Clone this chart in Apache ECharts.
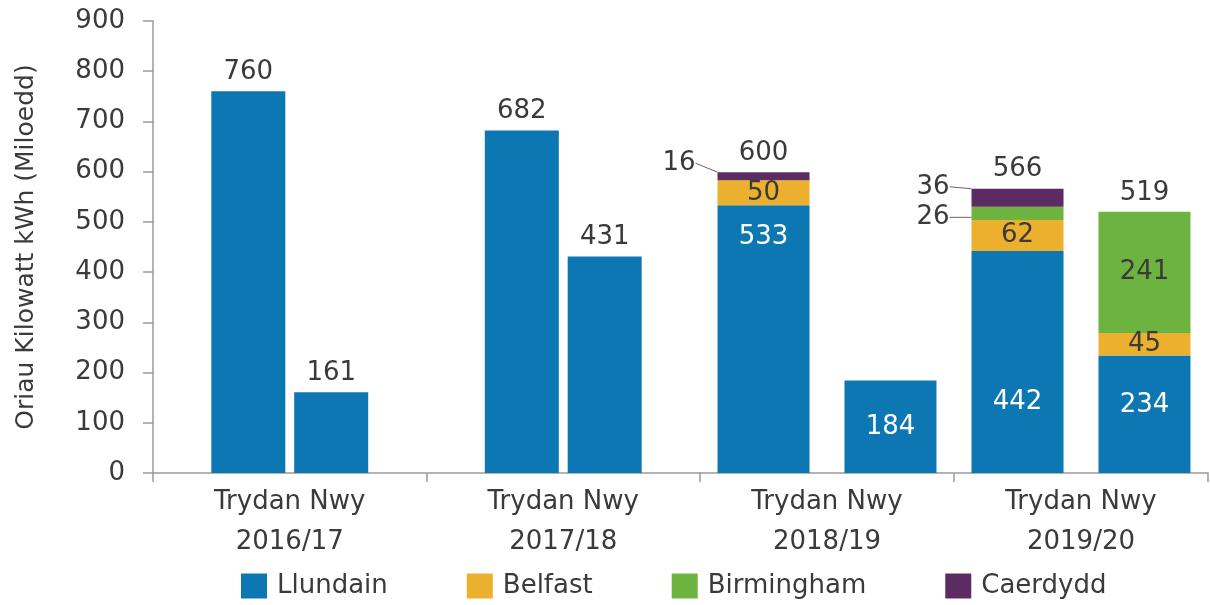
<!DOCTYPE html>
<html><head><meta charset="utf-8">
<script src="https://cdn.jsdelivr.net/npm/echarts@6/dist/echarts.min.js"></script>
<style>html,body{margin:0;padding:0;background:#fff}#c{width:1210px;height:605px}</style>
</head><body><div id="c"></div>
<script>
// ---------- data ----------
const categories = ['Trydan Nwy\n2016/17', 'Trydan Nwy\n2017/18', 'Trydan Nwy\n2018/19', 'Trydan Nwy\n2019/20'];
const cities = ['Llundain', 'Belfast', 'Birmingham', 'Caerdydd'];
const yAxisName = 'Oriau Kilowatt kWh (Miloedd)';
const yMin = 0, yMax = 900, yInterval = 100;

// first bar of each group
const bar1Llundain   = [760, 682, 533, 442];
const bar1Belfast    = [0, 0, 50, 62];
const bar1Birmingham = [0, 0, 0, 26];
const bar1Caerdydd   = [0, 0, 16, 36];
const bar1Total      = [760, 682, 600, 566];
// second bar of each group
const bar2Llundain   = [161, 431, 184, 234];
const bar2Belfast    = [0, 0, 0, 45];
const bar2Birmingham = [0, 0, 0, 241];
const bar2Caerdydd   = [0, 0, 0, 0];
const bar2Total      = [161, 431, null, 519];

// ---------- style ----------
const colors = { Llundain: '#0c77b3', Belfast: '#ebb12e', Birmingham: '#6db33f', Caerdydd: '#5c2b62' };
const FONT = 'DejaVu Sans';
const TXT = '#3a3a3a';
const FS = 26;

const bars = {
  b1: { Llundain: bar1Llundain, Belfast: bar1Belfast, Birmingham: bar1Birmingham, Caerdydd: bar1Caerdydd, total: bar1Total },
  b2: { Llundain: bar2Llundain, Belfast: bar2Belfast, Birmingham: bar2Birmingham, Caerdydd: bar2Caerdydd, total: bar2Total }
};

// label placement overrides (grid 2 only), keyed by bar-city-groupIndex
const inLbl = (pos, color) => ({ show: true, position: pos, align: 'center', verticalAlign: 'middle', color: color });
const sideLbl = { show: true, position: 'left', distance: 22, color: TXT };
const labelPlace = {
  'b1-Llundain-2': inLbl(['50%', '12%'], '#fff'),
  'b1-Llundain-3': inLbl(['50%', '68%'], '#fff'),
  'b2-Llundain-2': inLbl(['50%', '50%'], '#fff'),
  'b2-Llundain-3': inLbl(['50%', '42%'], '#fff'),
  'b1-Belfast-2': inLbl(['50%', '50%'], TXT),
  'b1-Belfast-3': inLbl(['50%', '50%'], TXT),
  'b2-Belfast-3': inLbl(['50%', '50%'], TXT),
  'b2-Birmingham-3': inLbl(['50%', '50%'], TXT),
  'b1-Birmingham-3': sideLbl,
  'b1-Caerdydd-2': sideLbl,
  'b1-Caerdydd-3': sideLbl
};
const labelShift = { 'b1-Birmingham-3': 4, 'b1-Caerdydd-2': -13, 'b1-Caerdydd-3': -11 };

const gridDefs = [
  { from: 0, to: 2, barWidth: 74, barGap: '12%', labels: false },
  { from: 2, to: 4, barWidth: 92, barGap: '38%', labels: true }
];

const series = [];
gridDefs.forEach((g, gi) => {
  ['b1', 'b2'].forEach(bk => {
    const stackName = 'g' + gi + bk;
    cities.forEach(city => {
      const vals = bars[bk][city].slice(g.from, g.to);
      series.push({
        name: city, type: 'bar', stack: stackName, xAxisIndex: gi, yAxisIndex: gi,
        barWidth: g.barWidth, barGap: g.barGap,
        itemStyle: { color: colors[city] },
        label: { show: false, fontFamily: FONT, fontSize: FS, color: TXT, formatter: p => (p.value ? String(p.value) : '') },
        labelLine: { show: false, lineStyle: { color: '#666', width: 1 }, smooth: false },
        labelLayout: function (p) {
          const key = bk + '-' + city + '-' + (g.from + p.dataIndex);
          return labelShift[key] !== undefined ? { dy: labelShift[key] } : {};
        },
        data: vals.map((v, i) => {
          const key = bk + '-' + city + '-' + (g.from + i);
          const item = { value: v };
          if (g.labels && labelPlace[key] && v) {
            item.label = labelPlace[key];
            if (labelShift[key] !== undefined) item.labelLine = { show: true };
          }
          return item;
        })
      });
    });
    // totals on top of stack
    const tot = bars[bk].total.slice(g.from, g.to);
    series.push({
      name: 'total-' + stackName, type: 'bar', stack: stackName, xAxisIndex: gi, yAxisIndex: gi,
      barWidth: g.barWidth, barGap: g.barGap,
      itemStyle: { color: 'rgba(0,0,0,0)' },
      label: { show: true, position: 'top', distance: 6, fontFamily: FONT, fontSize: FS, color: TXT,
        formatter: p => (tot[p.dataIndex] == null ? '' : String(tot[p.dataIndex])) },
      data: tot.map(() => 0)
    });
  });
});

const axisLineStyle = { color: '#9a9a9a', width: 1.5 };
const xAxes = gridDefs.map((g, gi) => ({
  type: 'category', gridIndex: gi, data: categories.slice(g.from, g.to),
  axisLine: { show: true, lineStyle: axisLineStyle },
  axisTick: { show: true, length: 9, lineStyle: axisLineStyle, alignWithLabel: false },
  axisLabel: { fontFamily: FONT, fontSize: FS, color: TXT, lineHeight: 40, margin: 9, interval: 0 }
}));
const yAxes = gridDefs.map((g, gi) => ({
  type: 'value', gridIndex: gi, min: yMin, max: yMax, interval: yInterval, show: gi === 0,
  name: gi === 0 ? yAxisName : '', nameLocation: 'middle', nameGap: 114,
  nameTextStyle: { fontFamily: FONT, fontSize: 25, color: TXT },
  axisLine: { show: true, lineStyle: axisLineStyle },
  axisTick: { show: true, length: 10, lineStyle: axisLineStyle },
  splitLine: { show: false },
  axisLabel: { fontFamily: FONT, fontSize: FS, color: TXT, margin: 28 }
}));

const chart = echarts.init(document.getElementById('c'), null, { renderer: 'canvas' });
chart.setOption({
  animation: false,
  backgroundColor: '#fff',
  grid: [
    { left: 153, right: 510, top: 21, bottom: 132 },
    { left: 700, right: 2, top: 21, bottom: 132 }
  ],
  legend: {
    data: cities, left: 236, top: 568, itemWidth: 26, itemHeight: 25, itemGap: 79, icon: 'rect',
    textStyle: { fontFamily: FONT, fontSize: FS, color: TXT, padding: [0, 0, 0, 5] }
  },
  xAxis: xAxes,
  yAxis: yAxes,
  series: series
});
</script>
</body></html>
